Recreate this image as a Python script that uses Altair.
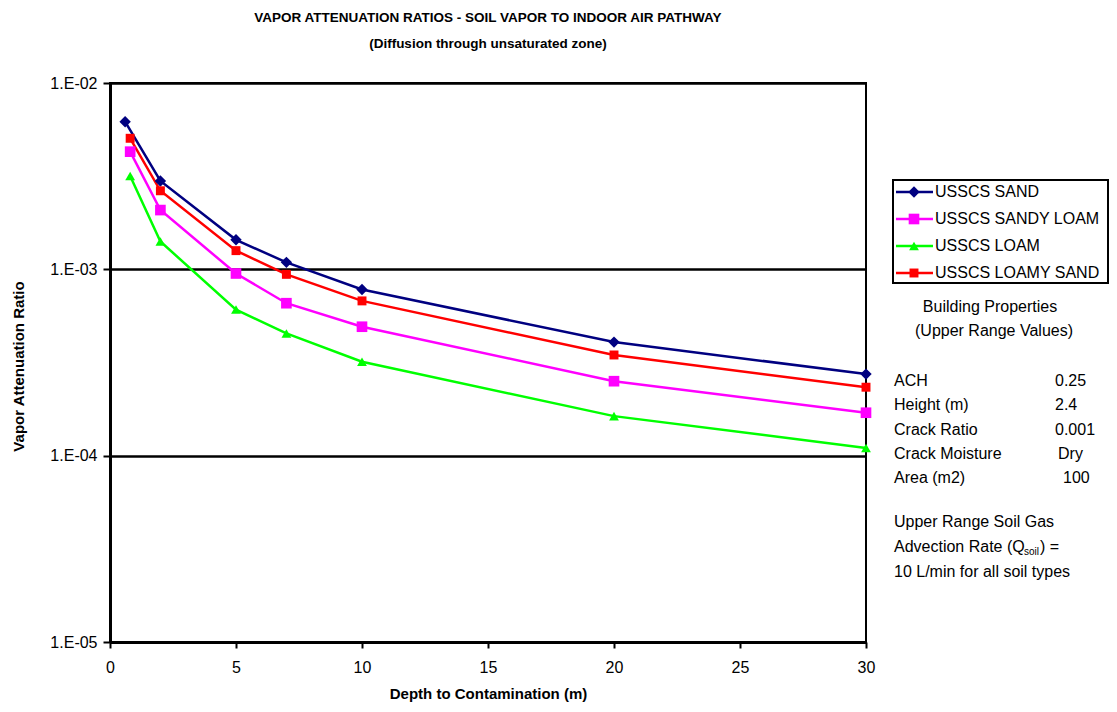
import altair as alt
import pandas as pd

# ---------------- data ----------------
series_names = ["USSCS SAND", "USSCS SANDY LOAM", "USSCS LOAM", "USSCS LOAMY SAND"]
series_colors = ["#000080", "#FF00FF", "#00FF00", "#FF0000"]
series_shapes = ["diamond", "square", "triangle-up", "square"]
series_marker_sizes = [130, 80, 140, 110]

depth_sand = [0.6, 2, 5, 7, 10, 20, 30]
depth_sandy_loam = [0.8, 2, 5, 7, 10, 20, 30]
depth_loam = [0.8, 2, 5, 7, 10, 20, 30]
depth_loamy_sand = [0.8, 2, 5, 7, 10, 20, 30]

ratio_sand = [6.2e-3, 2.98e-3, 1.44e-3, 1.09e-3, 7.8e-4, 4.07e-4, 2.74e-4]
ratio_sandy_loam = [4.28e-3, 2.08e-3, 9.5e-4, 6.58e-4, 4.92e-4, 2.51e-4, 1.70e-4]
ratio_loam = [3.17e-3, 1.41e-3, 6.08e-4, 4.53e-4, 3.19e-4, 1.63e-4, 1.10e-4]
ratio_loamy_sand = [5.05e-3, 2.64e-3, 1.26e-3, 9.4e-4, 6.77e-4, 3.47e-4, 2.33e-4]

x_ticks = [0, 5, 10, 15, 20, 25, 30]
y_ticks = [1e-5, 1e-4, 1e-3, 1e-2]

title_lines = ["VAPOR ATTENUATION RATIOS - SOIL VAPOR TO INDOOR AIR PATHWAY",
               "(Diffusion through unsaturated zone)"]
x_title = "Depth to Contamination (m)"
y_title = "Vapor Attenuation Ratio"

prop_heading = ["Building Properties", "(Upper Range Values)"]
prop_names = ["ACH", "Height (m)", "Crack Ratio", "Crack Moisture", "Area (m2)"]
prop_values = ["0.25", "2.4", "0.001", "Dry", "100"]
advection_lines = ["Upper Range Soil Gas", "Advection Rate (Q", "soil", ") =",
                   "10 L/min for all soil types"]

# ---------------- table ----------------
rows = []
for name, depths, vals in zip(
    series_names,
    [depth_sand, depth_sandy_loam, depth_loam, depth_loamy_sand],
    [ratio_sand, ratio_sandy_loam, ratio_loam, ratio_loamy_sand],
):
    for d, v in zip(depths, vals):
        rows.append({"series": name, "depth": d, "ratio": v})
df = pd.DataFrame(rows)
legend_df = pd.DataFrame({"series": series_names})
one_df = pd.DataFrame({"k": [0]})

FONT = "Liberation Sans"
TXT = 16

color = alt.Color("series:N", scale=alt.Scale(domain=series_names, range=series_colors), legend=None)
shape = alt.Shape("series:N", scale=alt.Scale(domain=series_names, range=series_shapes), legend=None)
size = alt.Size("series:N", scale=alt.Scale(domain=series_names, range=series_marker_sizes), legend=None)

x_enc = alt.X(
    "depth:Q",
    scale=alt.Scale(domain=[0, 30], nice=False, zero=False),
    axis=alt.Axis(
        values=x_ticks, grid=False, domainColor="black", domainWidth=3,
        tickColor="black", tickWidth=2, tickSize=6, labelFont=FONT, labelFontSize=16,
        labelColor="black", labelPadding=11, labelFlush=False,
        title=x_title, titleFont=FONT, titleFontSize=15, titleFontWeight="bold",
        titleColor="black", titlePadding=11,
    ),
)
y_enc = alt.Y(
    "ratio:Q",
    scale=alt.Scale(type="log", domain=[1e-5, 1e-2], nice=False),
    axis=alt.Axis(
        values=y_ticks, labelExpr="'1.E-0' + round(-log(datum.value)/LN10)",
        grid=True, gridColor="black", gridWidth=2.5, gridOpacity=1,
        domainColor="black", domainWidth=3, tickColor="black", tickWidth=2, tickSize=7,
        labelFont=FONT, labelFontSize=16, labelColor="black", labelPadding=6,
        labelFlush=False,
        title=y_title, titleFont=FONT, titleFontSize=15, titleFontWeight="bold",
        titleColor="black", titleX=-92, titleY=283, titleAngle=270,
        titleAlign="center", titleBaseline="middle",
    ),
)

lines = alt.Chart(df).mark_line(strokeWidth=2.5).encode(x=x_enc, y=y_enc, color=color)
points = alt.Chart(df).mark_point(filled=True, opacity=1).encode(
    x=x_enc, y=y_enc, color=color, shape=shape, size=size
)
main = alt.layer(lines, points)

# ---------------- legend (drawn inside the layer) ----------------
ly = alt.Y("series:N", scale=alt.Scale(type="point", domain=series_names, range=[109, 190], padding=0), axis=None)
legend_box = alt.Chart(one_df).mark_rect(fill="white", stroke="black", strokeWidth=2).encode(
    x=alt.value(783), x2=alt.value(998), y=alt.value(97), y2=alt.value(200)
)
legend_lines = alt.Chart(legend_df).mark_rule(strokeWidth=2.5).encode(
    x=alt.value(786), x2=alt.value(823), y=ly, color=color
)
legend_points = alt.Chart(legend_df).mark_point(filled=True, opacity=1).encode(
    x=alt.value(804), y=ly, color=color, shape=shape, size=size
)
legend_labels = alt.Chart(legend_df).mark_text(
    align="left", baseline="middle", font=FONT, fontSize=TXT, color="black"
).encode(x=alt.value(825), y=ly, text="series:N")
legend = alt.layer(legend_box, legend_lines, legend_points, legend_labels)


def note(txt, x, y, size=TXT, align="left"):
    return alt.Chart(one_df).mark_text(
        text=txt, align=align, baseline="alphabetic", font=FONT, fontSize=size, color="black"
    ).encode(x=alt.value(x), y=alt.value(y))


notes = [
    note(prop_heading[0], 880, 229, align="center"),
    note(prop_heading[1], 884, 253, align="center"),
]
prop_y = [303, 327, 352, 376, 400]
prop_vx = [945, 945, 945, 948, 953]
for name, val, yy, vx in zip(prop_names, prop_values, prop_y, prop_vx):
    notes.append(note(name, 784, yy))
    notes.append(note(val, vx, yy))
notes.append(note(advection_lines[0], 784, 444))
notes.append(note(advection_lines[1], 784, 469))
notes.append(note(advection_lines[2], 914, 472, size=10))
notes.append(note(advection_lines[3], 930, 469))
notes.append(note(advection_lines[4], 784, 494))

chart = alt.layer(main, legend, *notes).resolve_scale(y="independent").properties(
    width=756,
    height=559,
    autosize=alt.AutoSizeParams(type="none"),
    padding={"left": 102, "top": 75, "right": 243, "bottom": 62},
    title=alt.Title(
        text=title_lines, font=FONT, fontSize=13.5, fontWeight="bold", color="black",
        lineHeight=26, anchor="middle", offset=25,
    ),
    background="white",
).configure_view(stroke="black", strokeWidth=2)

chart.save("out.html", embed_options={"renderer": "svg", "actions": False})
